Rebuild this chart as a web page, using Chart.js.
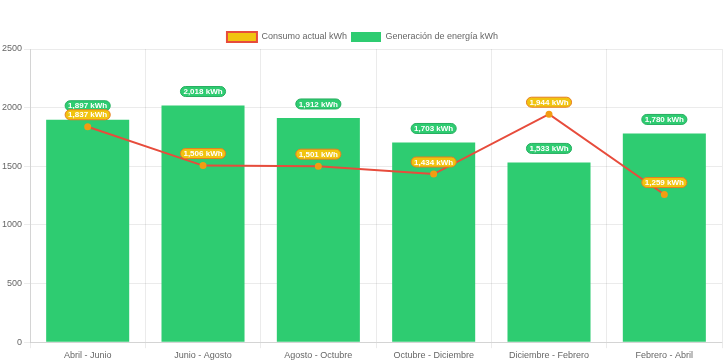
<!DOCTYPE html>
<html>
<head>
<meta charset="utf-8">
<script src="https://cdn.jsdelivr.net/npm/chart.js@4/dist/chart.umd.min.js"></script>
<style>
  body { margin: 0; background: #fff; }
  #wrap { width: 728px; height: 363px; }
</style>
</head>
<body>
<div id="wrap"><canvas id="myChart"></canvas></div>
<script>
// periodos y valores en kWh
const periodos = ['Abril - Junio', 'Junio - Agosto', 'Agosto - Octubre', 'Octubre - Diciembre', 'Diciembre - Febrero', 'Febrero - Abril'];
const consumo = [1837, 1506, 1501, 1434, 1944, 1259];
const generacion = [1897, 2018, 1912, 1703, 1533, 1780];
const yTicks = [0, 500, 1000, 1500, 2000, 2500];

// etiquetas tipo "pill" encima de cada punto / barra
const pillLabels = {
    id: 'pillLabels',
    afterInit(chart) {
        // leyenda un poco mas baja sin empujar el area del grafico
        if (chart.legend) {
            const origFit = chart.legend.fit;
            chart.legend.fit = function () {
                origFit.call(this);
                this.height -= 3;
            };
        }
    },
    afterDatasetsDraw(chart) {
        const ctx = chart.ctx;
        const order = [1, 0]; // barras primero, luego la linea
        order.forEach(function (di) {
            const ds = chart.data.datasets[di];
            const meta = chart.getDatasetMeta(di);
            meta.data.forEach(function (el, i) {
                const txt = ds.data[i].toLocaleString('en-US') + ' kWh';
                ctx.save();
                ctx.font = 'bold 8px "Liberation Sans", Arial, sans-serif';
                const w = ctx.measureText(txt).width + 6;
                const h = 10;
                const cx = el.x;
                const cy = el.y - ds.pillOffset - h / 2;
                ctx.beginPath();
                ctx.roundRect(cx - w / 2, cy - h / 2, w, h, 5);
                ctx.fillStyle = ds.pillBg;
                ctx.fill();
                ctx.lineWidth = 1;
                ctx.strokeStyle = ds.pillBorder;
                ctx.stroke();
                ctx.fillStyle = '#fff';
                ctx.textAlign = 'center';
                ctx.textBaseline = 'middle';
                ctx.fillText(txt, cx, cy + 0.5);
                ctx.restore();
            });
        });
    }
};

Chart.defaults.font.size = 9;
Chart.defaults.color = '#666';

var ctx = document.getElementById('myChart').getContext('2d');
var myChart = new Chart(ctx, {
    type: 'bar',
    data: {
        labels: periodos,
        datasets: [{
            type: 'line',
            label: 'Consumo actual kWh',
            data: consumo,
            borderColor: '#e74c3c',
            backgroundColor: '#f1c40f',
            borderWidth: 2,
            pointRadius: 2.5,
            pointBackgroundColor: '#f39c12',
            pointBorderColor: '#f39c12',
            tension: 0,
            pillBg: '#f1c40f',
            pillBorder: '#e67e22',
            pillOffset: 7,
            order: 0
        }, {
            label: 'Generación de energía kWh',
            data: generacion,
            backgroundColor: '#2ecc71',
            borderColor: '#2ecc71',
            borderWidth: 0,
            pillBg: '#2ecc71',
            pillBorder: '#27ae60',
            pillOffset: 9,
            order: 1
        }]
    },
    options: {
        responsive: true,
        maintainAspectRatio: false,
        animation: false,
        layout: { padding: { top: 28, right: 3, bottom: 0, left: 0 } },
        plugins: {
            legend: {
                labels: {
                    boxWidth: 30,
                    boxHeight: 10,
                    padding: 4
                }
            },
            tooltip: { enabled: false }
        },
        scales: {
            x: {
                ticks: { padding: 2 },
                grid: { color: 'rgba(0,0,0,0.08)', tickLength: 6 }
            },
            y: {
                min: 0,
                max: 2500,
                afterBuildTicks: function (axis) {
                    axis.ticks = yTicks.map(function (v) { return { value: v }; });
                },
                ticks: {
                    padding: 2,
                    callback: function (v) { return String(v); }
                },
                grid: { color: 'rgba(0,0,0,0.08)', tickLength: 6 }
            }
        }
    },
    plugins: [pillLabels]
});
</script>
</body>
</html>
